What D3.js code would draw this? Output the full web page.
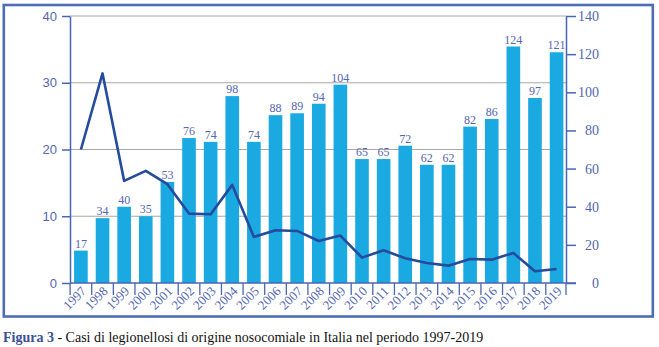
<!DOCTYPE html>
<html>
<head>
<meta charset="utf-8">
<script src="https://cdn.jsdelivr.net/npm/d3@7"></script>
<style>
  body { margin: 0; background: #fff; }
  svg { display: block; }
</style>
</head>
<body>
<div id="chart"></div>
<script>
const years = ['1997', '1998', '1999', '2000', '2001', '2002', '2003', '2004', '2005', '2006', '2007', '2008',
  '2009', '2010', '2011', '2012', '2013', '2014', '2015', '2016', '2017', '2018', '2019'];
// number of nosocomial cases (bars, right axis)
const cases = [17, 34, 40, 35, 53, 76, 74, 98, 74, 88, 89, 94, 104, 65, 65, 72, 62, 62, 82, 86, 124, 97, 121];
// line, left axis
const share = [20.0, 31.4, 15.3, 16.8, 14.8, 10.4, 10.3, 14.7, 6.9, 7.9, 7.8, 6.3, 7.1, 3.8, 4.9, 3.7, 3.0, 2.6,
  3.6, 3.5, 4.5, 1.75, 2.1];
const leftTicks = [0, 10, 20, 30, 40];
const rightTicks = [0, 20, 40, 60, 80, 100, 120, 140];

const width = 659;
const height = 347;
const plot = { left: 70, right: 566, top: 16, bottom: 283 };
const axisColor = '#4a66b3';
const labelColor = '#5366b0';
const serif = '"Liberation Serif", "Times New Roman", serif';

const svg = d3.select('#chart').append('svg')
  .attr('width', width)
  .attr('height', height);

// frame
svg.append('rect')
  .attr('x', 3.8)
  .attr('y', 5)
  .attr('width', 649)
  .attr('height', 311.5)
  .style('fill', 'none')
  .style('stroke', '#4f6cb6')
  .style('stroke-width', 2.6);

const xScale = d3.scaleBand()
  .domain(years)
  .range([plot.left + 1.5, plot.right])
  .paddingInner(0.37)
  .paddingOuter(0.12);

const yLeft = d3.scaleLinear()
  .domain([0, 40])
  .range([plot.bottom, plot.top]);

const yRight = d3.scaleLinear()
  .domain([0, 140])
  .range([plot.bottom, plot.top]);

// grid lines
svg.append('g')
  .attr('class', 'grid')
  .selectAll('line')
  .data(leftTicks.filter(d => d > 0))
  .join('line')
  .attr('x1', plot.left)
  .attr('x2', plot.right)
  .attr('y1', d => yLeft(d))
  .attr('y2', d => yLeft(d))
  .style('stroke', '#a8a8a8')
  .style('stroke-width', 1.2);

// bars
svg.append('g')
  .attr('class', 'bars')
  .selectAll('rect')
  .data(cases)
  .join('rect')
  .attr('x', (d, i) => xScale(years[i]))
  .attr('y', d => yRight(d))
  .attr('width', xScale.bandwidth())
  .attr('height', d => yRight(0) - yRight(d))
  .style('fill', '#1aa9e1');

// bar labels
svg.append('g')
  .attr('class', 'barLabels')
  .selectAll('text')
  .data(cases)
  .join('text')
  .attr('x', (d, i) => xScale(years[i]) + xScale.bandwidth() / 2)
  .attr('y', d => yRight(d) - 3)
  .attr('text-anchor', 'middle')
  .style('font-family', serif)
  .style('font-size', '12px')
  .style('fill', labelColor)
  .text(d => d);

// line
const line = d3.line()
  .x((d, i) => xScale(years[i]) + xScale.bandwidth() / 2)
  .y(d => yLeft(d));

svg.append('path')
  .datum(share)
  .attr('d', line)
  .style('fill', 'none')
  .style('stroke', '#254b9c')
  .style('stroke-width', 2.6)
  .style('stroke-linejoin', 'round');

// left axis
const leftAxis = svg.append('g')
  .attr('class', 'yAxis')
  .attr('transform', `translate(${plot.left},0)`)
  .call(d3.axisLeft(yLeft).tickValues(leftTicks).tickSizeInner(8).tickSizeOuter(0).tickPadding(5));

leftAxis.select('.domain').style('stroke', axisColor).style('stroke-width', 1.5);
leftAxis.selectAll('.tick line').style('stroke', axisColor).style('stroke-width', 1.5);
leftAxis.selectAll('.tick text')
  .style('font-family', '"Liberation Sans", Arial, sans-serif')
  .style('font-size', '13px')
  .style('fill', labelColor);

// right axis
const rightAxis = svg.append('g')
  .attr('class', 'yAxisRight')
  .attr('transform', `translate(${plot.right},0)`)
  .call(d3.axisRight(yRight).tickValues(rightTicks).tickSizeInner(10).tickSizeOuter(0));

rightAxis.select('.domain').style('stroke', axisColor).style('stroke-width', 1.5);
rightAxis.selectAll('.tick line').style('stroke', axisColor).style('stroke-width', 1.5);
rightAxis.selectAll('.tick text')
  .attr('x', 33)
  .attr('text-anchor', 'end')
  .style('font-family', serif)
  .style('font-size', '14px')
  .style('fill', labelColor);

// x axis baseline and ticks at band boundaries
const step = xScale.step();
const boundaries = years.map(d => xScale(d) - step * xScale.paddingInner() / 2);
boundaries.push(plot.right);

const xAxis = svg.append('g').attr('class', 'xAxis');

xAxis.append('line')
  .attr('x1', plot.left)
  .attr('x2', plot.right + 10)
  .attr('y1', plot.bottom)
  .attr('y2', plot.bottom)
  .style('stroke', axisColor)
  .style('stroke-width', 1.5);

xAxis.selectAll('.tickMark')
  .data(boundaries)
  .join('line')
  .attr('class', 'tickMark')
  .attr('x1', d => d)
  .attr('x2', d => d)
  .attr('y1', plot.bottom)
  .attr('y2', plot.bottom + 12)
  .style('stroke', axisColor)
  .style('stroke-width', 1.3);

xAxis.selectAll('.yearLabel')
  .data(years)
  .join('text')
  .attr('class', 'yearLabel')
  .attr('text-anchor', 'end')
  .attr('transform', d => `translate(${xScale(d) + xScale.bandwidth() / 2 + 6},${plot.bottom + 9}) rotate(-45)`)
  .style('font-family', serif)
  .style('font-size', '13px')
  .style('fill', labelColor)
  .text(d => d);

// caption
const caption = svg.append('text')
  .attr('x', 3)
  .attr('y', 342)
  .style('font-family', serif)
  .style('font-size', '14px');

caption.append('tspan')
  .style('font-weight', 'bold')
  .style('fill', '#3a4f98')
  .text('Figura 3');

caption.append('tspan')
  .style('fill', '#111')
  .text(' - Casi di legionellosi di origine nosocomiale in Italia nel periodo 1997-2019');
</script>
</body>
</html>
